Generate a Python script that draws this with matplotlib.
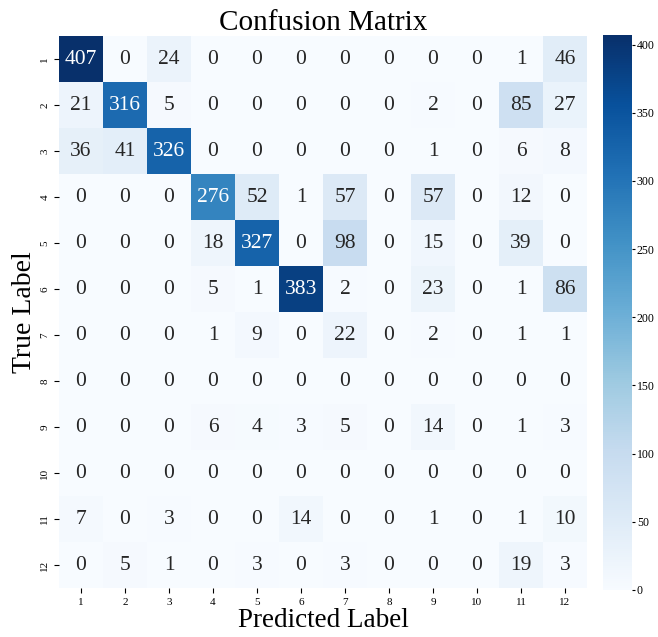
import numpy as np
import matplotlib
matplotlib.use("Agg")
import matplotlib.pyplot as plt
import seaborn as sns

labels = [str(i) for i in range(1, 13)]

cm = np.array([
    [407, 0, 24, 0, 0, 0, 0, 0, 0, 0, 1, 46],
    [21, 316, 5, 0, 0, 0, 0, 0, 2, 0, 85, 27],
    [36, 41, 326, 0, 0, 0, 0, 0, 1, 0, 6, 8],
    [0, 0, 0, 276, 52, 1, 57, 0, 57, 0, 12, 0],
    [0, 0, 0, 18, 327, 0, 98, 0, 15, 0, 39, 0],
    [0, 0, 0, 5, 1, 383, 2, 0, 23, 0, 1, 86],
    [0, 0, 0, 1, 9, 0, 22, 0, 2, 0, 1, 1],
    [0, 0, 0, 0, 0, 0, 0, 0, 0, 0, 0, 0],
    [0, 0, 0, 6, 4, 3, 5, 0, 14, 0, 1, 3],
    [0, 0, 0, 0, 0, 0, 0, 0, 0, 0, 0, 0],
    [7, 0, 3, 0, 0, 14, 0, 0, 1, 0, 1, 10],
    [0, 5, 1, 0, 3, 0, 3, 0, 0, 0, 19, 3],
])

plt.rcParams['font.family'] = ['Liberation Serif', 'DejaVu Serif']

W, H = 658, 637
fig = plt.figure(figsize=(W / 100, H / 100), dpi=100)
ax = fig.add_axes([59 / W, 1 - 588 / H, 528 / W, 552 / H])
cax = fig.add_axes([603 / W, 1 - 590 / H, 29 / W, 555 / H])

sns.heatmap(cm, annot=True, fmt="d", cmap="Blues", ax=ax, cbar_ax=cax,
            xticklabels=labels, yticklabels=labels,
            annot_kws={"size": 15.5})

ax.set_title("Confusion Matrix", fontsize=21, pad=3)
ax.set_xlabel("Predicted Label", fontsize=19.5, labelpad=1)
ax.set_ylabel("True Label", fontsize=20, labelpad=2)
ax.tick_params(axis='x', labelsize=8, rotation=0)
ax.tick_params(axis='y', labelsize=8, rotation=90)
for t in ax.get_yticklabels():
    t.set_va('center')

cax.set_yticks(range(0, 401, 50))
cax.tick_params(labelsize=8.5, length=2.5, pad=1)

fig.savefig("out.png", dpi=100)
